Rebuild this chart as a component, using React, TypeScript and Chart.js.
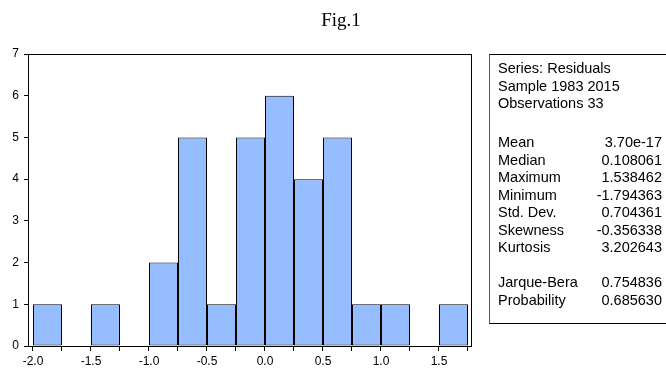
import React, { useEffect, useRef } from "react";
import { Chart, registerables } from "chart.js";

Chart.register(...registerables);

// ---- data ----
const binStarts = [-2.0, -1.75, -1.5, -1.25, -1.0, -0.75, -0.5, -0.25, 0.0, 0.25, 0.5, 0.75, 1.0, 1.25, 1.5];
const binCounts = [1, 0, 1, 0, 2, 5, 1, 5, 6, 4, 5, 1, 1, 0, 1];
const binWidth = 0.25;
const xAxisMin = -2.0431;
const xAxisMax = 1.7845;
const yAxisMin = 0;
const yAxisMax = 7;

const titleText = "Fig.1";
const headerLines = ["Series: Residuals", "Sample 1983 2015", "Observations 33"];
const statLabels = ["Mean", "Median", "Maximum", "Minimum", "Std. Dev.", "Skewness", "Kurtosis"];
const statValues = ["3.70e-17", "0.108061", "1.538462", "-1.794363", "0.704361", "-0.356338", "3.202643"];
const testLabels = ["Jarque-Bera", "Probability"];
const testValues = ["0.754836", "0.685630"];

const SANS = "'Liberation Sans', Arial, sans-serif";

const framePlugin = {
  id: "frame",
  afterDraw(chart: any) {
    const { ctx, chartArea } = chart;
    ctx.save();
    ctx.strokeStyle = "#000";
    ctx.lineWidth = 1;
    ctx.strokeRect(
      Math.round(chartArea.left) + 0.5,
      Math.round(chartArea.top) + 0.5,
      Math.round(chartArea.right - chartArea.left) - 1,
      Math.round(chartArea.bottom - chartArea.top)
    );
    ctx.restore();
  },
};

export default function App() {
  const canvasRef = useRef<HTMLCanvasElement | null>(null);

  useEffect(() => {
    const canvas = canvasRef.current;
    if (!canvas) return;
    const data = binStarts.map((s, i) => ({
      x: s + binWidth / 2,
      y: binCounts[i] === 0 ? null : binCounts[i],
    }));
    const binEdges = [...binStarts, binStarts[binStarts.length - 1] + binWidth];
    const chart = new Chart(canvas, {
      type: "bar",
      data: {
        datasets: [
          {
            data: data as any,
            backgroundColor: "#96bdff",
            borderColor: "#000",
            borderWidth: 1,
            borderSkipped: false,
            barPercentage: 1,
            categoryPercentage: 1,
            inflateAmount: 0,
          } as any,
        ],
      },
      options: {
        responsive: false,
        animation: false,
        events: [],
        layout: { padding: { top: 54, right: 194, left: 0, bottom: 0 } },
        plugins: {
          legend: { display: false },
          tooltip: { enabled: false },
          title: { display: false },
        },
        scales: {
          x: {
            type: "linear",
            min: xAxisMin,
            max: xAxisMax,
            offset: false,
            border: { display: false },
            grid: {
              display: true,
              drawOnChartArea: false,
              drawTicks: true,
              tickLength: 5,
              color: "#000",
              offset: false,
            },
            ticks: {
              autoSkip: false,
              maxRotation: 0,
              padding: 3,
              color: "#000",
              font: { family: SANS, size: 12 },
              callback: (v: any) => {
                const n = Number(v);
                return Math.abs(n * 2 - Math.round(n * 2)) < 1e-9 ? n.toFixed(1) : "";
              },
            },
            afterBuildTicks: (scale: any) => {
              scale.ticks = binEdges.map((v) => ({ value: v }));
            },
            afterFit: (scale: any) => {
              scale.height = 25;
            },
          },
          y: {
            type: "linear",
            min: yAxisMin,
            max: yAxisMax,
            border: { display: false },
            grid: {
              display: true,
              drawOnChartArea: false,
              drawTicks: true,
              tickLength: 4,
              color: "#000",
            },
            ticks: {
              stepSize: 1,
              padding: 5,
              color: "#000",
              font: { family: SANS, size: 12 },
            },
            afterFit: (scale: any) => {
              scale.width = 28;
            },
          },
        },
      },
      plugins: [framePlugin],
    });
    return () => chart.destroy();
  }, []);

  const row = (label: string, value: string | null, key: string) => (
    <div
      key={key}
      style={{ display: "flex", justifyContent: "space-between", height: 17.5, lineHeight: "17.5px", whiteSpace: "nowrap" }}
    >
      <span>{label}</span>
      {value !== null ? <span>{value}</span> : null}
    </div>
  );

  return (
    <div
      style={{
        position: "absolute",
        left: 0,
        top: 0,
        width: 666,
        height: 371,
        overflow: "hidden",
        background: "#fff",
      }}
    >
      <canvas ref={canvasRef} width={666} height={371} style={{ position: "absolute", left: 0, top: 0 }} />
      <div
        style={{
          position: "absolute",
          left: 0,
          width: 682,
          top: 10,
          textAlign: "center",
          fontFamily: "'Liberation Serif', 'Times New Roman', serif",
          fontSize: 19,
          lineHeight: "20px",
          color: "#000",
        }}
      >
        {titleText}
      </div>
      <div
        style={{
          position: "absolute",
          left: 489,
          top: 54,
          width: 181,
          height: 270,
          boxSizing: "border-box",
          border: "1px solid #000",
          borderLeft: "1px solid #555",
          paddingLeft: 8,
          paddingRight: 7,
          paddingTop: 5.25,
          fontFamily: SANS,
          fontSize: 14.5,
          color: "#000",
        }}
      >
        <div>{headerLines.map((h, i) => row(h, null, "h" + i))}</div>
        <div style={{ marginTop: 21.5 }}>
          {statLabels.map((l, i) => row(l, statValues[i], "s" + i))}
        </div>
        <div style={{ marginTop: 17.5 }}>
          {testLabels.map((l, i) => row(l, testValues[i], "t" + i))}
        </div>
      </div>
    </div>
  );
}
